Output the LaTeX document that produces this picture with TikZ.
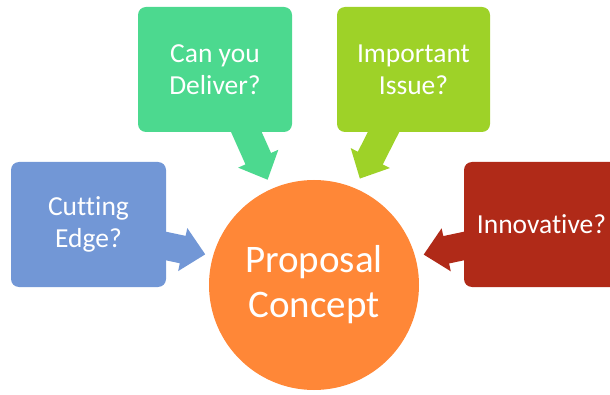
\documentclass[tikz,border=0pt]{standalone}
\usepackage{fontspec}
\setmainfont{Carlito}[Ligatures=NoCommon]
\usetikzlibrary{calc}
\definecolor{cblue}{RGB}{114,151,214}
\definecolor{cgreen}{RGB}{76,217,143}
\definecolor{clime}{RGB}{158,210,40}
\definecolor{cred}{RGB}{176,42,24}
\definecolor{corange}{RGB}{255,135,55}
\tikzset{
  box/.style={rounded corners=8pt, minimum width=155pt, minimum height=125pt, text=white,
    font=\fontsize{27.5}{32}\selectfont, align=center, inner sep=0pt},
  hub/.style={circle, fill=corange, minimum size=210pt, text=white,
    font=\fontsize{39}{45}\selectfont, align=center, inner sep=0pt},
}
\newcommand{\blockarrow}[4]{%
  \begin{scope}[shift={#1}, rotate=#2]
    \fill[#4] (0,-14) -- ({#3-23},-14) -- ({#3-23},-22) -- (#3,0) -- ({#3-23},22) -- ({#3-23},14) -- (0,14) -- cycle;
  \end{scope}}
\begin{document}
\begin{tikzpicture}[x=1pt,y=1pt]
\useasboundingbox (0,0) rectangle (610,394);
\clip (0,0) rectangle (610,394);
\node[hub] (hub) at (314,109) {Proposal\\Concept};
\node[box, fill=cblue] (cut) at (88.5,169.5) {Cutting\\Edge?};
\node[box, fill=cgreen, minimum width=154pt] (del) at (215,324.5) {Can you\\Deliver?};
\node[box, fill=clime, minimum width=153pt] (imp) at (413.5,324.5) {Important\\Issue?};
\node[box, fill=cred] (inn) at (541.5,169.5) {Innovative?};
\blockarrow{($(cut.east)+(-5,-20.5)$)}{-12}{45}{cblue}
\blockarrow{($(del.south)+(28.2,7.3)$)}{-66}{60}{cgreen}
\blockarrow{($(imp.south)+(-26.4,7.1)$)}{-117}{60}{clime}
\blockarrow{($(inn.west)+(4.9,-20.5)$)}{192}{46}{cred}
\end{tikzpicture}
\end{document}
